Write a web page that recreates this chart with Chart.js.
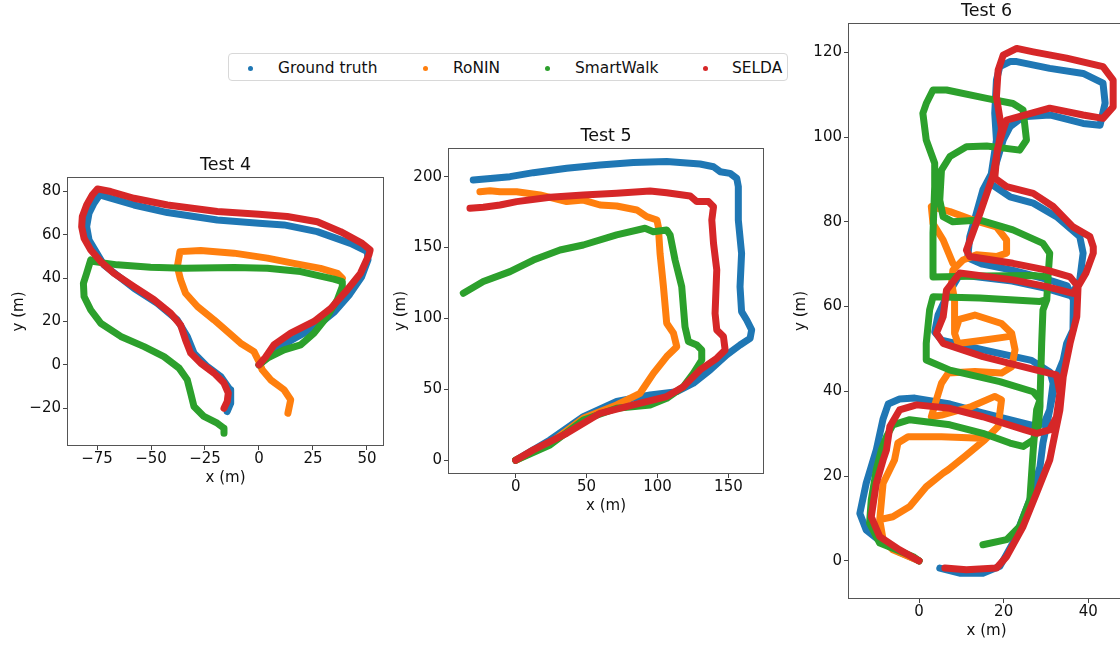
<!DOCTYPE html>
<html>
<head>
<meta charset="utf-8">
<script src="https://cdn.jsdelivr.net/npm/chart.js@4.4.1/dist/chart.umd.min.js"></script>
<style>
  html, body { margin: 0; padding: 0; background: #fff; overflow: hidden; }
  body { width: 1120px; height: 645px; position: relative; font-family: "DejaVu Sans", sans-serif; }
  canvas { position: absolute; }
  #legend { position: absolute; left: 228px; top: 53px; width: 560px; height: 28px;
            border: 1px solid #d8d8d8; border-radius: 4px; box-sizing: border-box; }
  .item { position: absolute; top: 0; height: 28px; line-height: 28px; font-size: 15.4px; color: #111; white-space: nowrap; }
  .dot { position: absolute; top: 11.5px; width: 5px; height: 5px; border-radius: 50%; }
</style>
</head>
<body>
<div id="legend"></div>
<canvas id="test4" width="389" height="350" style="left:10px;top:137px"></canvas>
<canvas id="test5" width="387" height="407" style="left:392px;top:108px"></canvas>
<canvas id="test6" width="348" height="657" style="left:792px;top:-17px"></canvas>
<script>
// series names and colours
var methods = ["Ground truth", "RoNIN", "SmartWalk", "SELDA"];
var colors = ["#1f77b4", "#ff7f0e", "#2ca02c", "#d62728"];

// tick labels
var xTicks4 = [-75, -50, -25, 0, 25, 50];
var yTicks4 = [-20, 0, 20, 40, 60, 80];
var xTicks5 = [0, 50, 100, 150];
var yTicks5 = [0, 50, 100, 150, 200];
var xTicks6 = [0, 20, 40];
var yTicks6 = [0, 20, 40, 60, 80, 100, 120];

// Test 4 trajectories [x, y] in metres
var gt4 = [[0,0],[5,4.5],[10,8.5],[17,12.5],[27,18],[35,24.5],[42,32.5],[47.5,40.5],[50.5,48.5],[50.2,52.2],[42.4,56],[27,61.4],[11.6,64.5],[0,65.3],[-19.3,66.8],[-42.4,70.2],[-57.9,73.7],[-68.7,76.8],[-73.8,78.3],[-76.4,74.5],[-78.7,69.9],[-79.8,63.7],[-78.7,57.6],[-71.8,46],[-57.9,35.3],[-47.1,28.4],[-37.8,20.7],[-33.2,13.1],[-30.1,5.4],[-23.9,-0.8],[-17.7,-5.4],[-13.4,-11.5],[-13.1,-17.7],[-14.7,-21.5]];
var ronin4 = [[13.4,-22.3],[14.7,-16.1],[11.6,-11.5],[5.4,-6.9],[1.5,-2.3],[0,1.5],[-2.3,6.1],[-8.5,10],[-14.7,15.4],[-20.8,20.7],[-28.5,26.9],[-34,33],[-36.3,39.2],[-37.8,45.3],[-36.6,52.2],[-27,52.7],[-11.6,51.5],[3.9,49.2],[16.2,46.8],[28.5,44.5],[36.3,42.2],[38.6,39.9]];
var smart4 = [[0,0],[3.9,3.1],[11.6,6.9],[19.3,9.2],[25.5,14.6],[31.6,22.3],[36.3,30],[38.6,36.1],[38.6,38.4],[34.7,39.5],[19.3,43],[3.9,44.5],[-11.6,44.9],[-34.7,44.5],[-50.2,45],[-65.6,46.1],[-76.4,47.6],[-77.9,48.4],[-79.8,42.2],[-81.3,37.6],[-81,31.5],[-77.9,25.3],[-73.3,19.2],[-64,13.1],[-53.2,8.4],[-44,3.8],[-37,-1.5],[-33.2,-6.9],[-31.6,-13.1],[-30.1,-19.2],[-25.5,-23.8],[-19.3,-26.9],[-16.2,-29.2],[-16.2,-31.5]];
var selda4 = [[0,0],[3,3.5],[6.9,9.2],[14.7,14.6],[25.5,20],[33.2,26],[40.9,34.6],[47,42.2],[50.9,50.7],[51.5,53],[47.8,56],[37.8,61.4],[27,66],[13.1,68.4],[0,69.4],[-19.3,70.7],[-42.4,73.7],[-57.9,76.8],[-68.7,79.9],[-74.8,81.1],[-77.2,78.3],[-79.8,73.7],[-81.8,68.4],[-82.1,63.7],[-81,58.4],[-77.9,53],[-73.3,47.6],[-67.1,42.2],[-57.9,36.1],[-48.6,30],[-40.9,23.8],[-36.3,18.4],[-34,11.5],[-31.6,5.4],[-27,0.8],[-20.8,-3.8],[-16.2,-8.4],[-14.2,-13],[-14.7,-16.9],[-16.2,-20]];

// Test 5
var gt5 = [[0,0],[24.2,14.3],[47.7,30.8],[71.2,41.4],[94.8,46.1],[113.6,48.4],[125.3,54.3],[137.1,63.7],[148.8,74.3],[158.2,81.3],[165.3,86],[166.4,91.9],[162.9,98.9],[159.3,104.8],[158.2,122.4],[159.3,145.9],[157,169.4],[157,192.9],[155.9,198.8],[151.2,202.3],[144.2,203.5],[139.5,207],[130,208.9],[106.5,210.6],[83,209.9],[59.5,208.2],[36,205.9],[12.5,202.8],[-4,200],[-15.8,198.8],[-29.9,197.6]];
var ronin5 = [[0,0],[24.2,12],[47.7,29.6],[71.2,39],[87.7,47.2],[97.1,61.3],[106.5,73.1],[113.6,80.1],[111.3,89.5],[106.5,96.6],[104.2,122.4],[101.8,145.9],[100.6,164.7],[99.6,169.4],[92.4,171.8],[85.4,176.5],[71.2,179.3],[59.5,180],[47.7,183.5],[36,182.4],[17.2,187.1],[0.7,189.4],[-11,189.4],[-18.1,190.1],[-25.2,189.4]];
var smart5 = [[0,0],[24.2,10.8],[47.7,28.4],[71.2,36.7],[94.8,39],[106.5,43.7],[118.3,51.9],[125.3,61.3],[131.2,70.7],[131.2,77.8],[127.7,81.3],[121.8,83.7],[119.4,94.2],[117.1,122.4],[112.4,141.2],[108.9,158.9],[106.5,162.4],[97.1,161.2],[91.2,163.6],[71.2,158.9],[47.7,151.8],[31.3,148.3],[12.5,141.2],[-4,133],[-22.8,126],[-36.9,117.7]];
var selda5 = [[0,0],[12.5,7.3],[36,19],[59.5,33.1],[83,39],[106.5,44.9],[118.3,51.9],[130,63.7],[141.8,71.9],[147.7,77.8],[146.5,87.2],[141.8,91.9],[140.6,103.6],[141.8,134.2],[139.5,153],[138.3,169.4],[139.5,178.8],[136,182.4],[127.7,182.4],[123,186.4],[106.5,188.7],[94.8,189.9],[71.2,188.3],[47.7,187.1],[24.2,185.4],[0.7,182.4],[-11,180],[-22.8,178.4],[-32.2,177.7]];

// Test 6 (null = break in the trace)
var gt6 = [[0,0],[-4.5,2],[-9,4.5],[-12.5,7.3],[-14,11.2],[-12.5,18.3],[-10.1,26.2],[-8.5,33.5],[-7.3,37],[-4.6,38.2],[-1,38.4],[7.3,37],[14.8,35],[26.6,32],[29.5,32.3],[30.9,35.6],[31.7,41.9],[31,44.5],[26.6,47.3],[15,49.8],[5.3,52.1],[3.7,54],[4.5,58],[6.5,62.3],[9.6,67.5],[22,66],[30,64.3],[36,62.5],[38,66.3],[38.8,72.6],[38,76.5],[32.5,81.2],[27,84.4],[21.5,85.9],[16.7,89.1],[17.1,91.4],[18.3,99.3],[17.9,105.6],[18.3,113.4],[19.1,116.6],[21.5,117.8],[23.1,117.8],[30.9,116.2],[38.8,115],[43.5,112.7],[44,108],[42.8,102.8],[38.8,103.2],[30.9,105.2],[24.6,104.8],[21.5,102.4],[19.9,99.3],[18,93],[15.1,87.5],[12,76.5],[11.5,71.5],[15,70],[22,68.6],[30,66.5],[35,64.9],[36.5,61.6],[36.4,54.5],[34.9,51.3],[34.1,47.4],[32.5,43.5],[30.9,35.6],[29.3,27.8],[28.6,22.2],[26.2,14.4],[22.2,4.2],[19.1,-1.3],[15.1,-2.9],[9.6,-2.9],[4.9,-1.7]];
var ronin6 = [[14.8,28.9],[5.3,29.3],[-2.6,29.3],[-5,27.8],[-5.8,23.8],[-8.5,18.3],[-9.3,9.7],[-8.5,5],[-6.2,2.6],[-1.4,0.6],[0,0],null,
  [-9,9.8],[-6.2,10.4],[-2.2,12.8],[1.7,17.5],[5.7,20.7],[6.9,21.5],[10.8,24.6],[15.5,28.5],[18.7,31.7],[19.5,38],[17.9,38.8],[12.4,36.4],[5.3,34.4],[2.9,34],[4.1,38],[5.3,41.9],[6.9,44.3],[13.2,44.7],[19.5,44.3],[21.9,45.8],[22.7,49.8],[21.9,53.7],[19.5,56],[13.2,58],[9.5,57],[8.4,53.7],[9.2,51.3],[15.5,52.1],[21.1,52.9],null,
  [8.4,53.7],[8.4,61.6],[7.7,65.5],[8,68.6],[10.4,71],[13.6,72.2],[18.3,71.8],[20.7,72.6],[20.7,75.7],[18.3,78.8],[12.8,80.4],[7.3,82.4],[2.9,83.6],[3.3,79.6],[5.7,75.7],[8,70.2]];
var smart6 = [[0,0],[-1.4,1],[-5.3,2.6],[-9.3,4.2],[-11.7,8.9],[-11.3,14.4],[-10.1,21.5],[-8.9,26.2],[-7.7,29.3],[-6.2,32.1],[-2.2,33.3],[7.3,32.1],[15.1,30.1],[21.5,27.8],[24.6,27],[27,28.5],[28.2,31.7],[28.6,36.4],[28.6,38],[27,39.9],[19.1,42.3],[7.3,45],[1.7,47.4],[1.7,51.3],[2.5,59.2],[3.3,62.3],[14.4,62],[28.6,61.2],[30.2,61.6],[30.5,67],[27,67.3],[15,67.2],[3.3,67],[3.3,77.3],[3.7,88.3],[3.7,93.8],[1.7,99.3],[0.9,105.6],[1.7,107.9],[3.3,111.1],[6.5,111.1],[16,109.1],[22.2,107.9],[24.6,106.4],[25.4,99.3],[23.8,96.9],[16,97.9],[11.2,97.7],[7.3,95.4],[5.3,92.2],[4.9,85.1],[5.7,81.2],[8,80],[14.4,80.4],[22.2,78.1],[29.3,74.9],[30.9,72.6],[30.5,67],[30.2,61.6],[29.3,59.2],[29,51.3],[28.6,38],[27.8,35.6],[27,26.2],[26.2,14.4],[23.8,8.1],[20.7,5],[15.1,3.8]];
var selda6 = [[0,0],[-4.6,2.6],[-9.3,5.7],[-11.3,10.4],[-10.1,18.3],[-8.5,23.8],[-7.7,26.2],[-6.9,31.7],[-4.6,35.6],[-0.6,36.8],[7.3,36],[15.1,34],[25,30.9],[27.8,30.1],[30.9,30.9],[32.5,34],[33.3,39.6],[32.5,43.9],[27.8,45],[15.1,48.2],[5.7,51.3],[4.1,53.7],[5.7,57.6],[6.5,63.9],[9.6,67.9],[22.2,66.3],[30.2,64.7],[36.4,63.1],[37.6,64.7],[39.5,68],[41.2,72.6],[41.2,74.1],[40.4,76.5],[36.4,78.8],[31.7,83.6],[27,86.7],[20.7,88.3],[17.9,90.3],[18.5,97],[19.9,101.7],[20.7,104],[30.9,106.8],[38.8,105.2],[43.5,104.4],[45.9,107.1],[45.9,113.4],[43.5,116.6],[34.9,118.6],[27,120.1],[23.1,120.9],[19.9,119.3],[18.7,115.8],[18.3,109.5],[19.5,102],[17.5,91],[14.4,82],[11.2,73.3],[12,71.8],[22.2,70.2],[30.2,68.6],[35.7,67],[37.6,64.7],[37.3,57.6],[35.7,51.3],[34.1,43.5],[33.3,35.6],[31.7,27.8],[30.9,23.8],[27.8,16],[24.6,8.1],[20.7,1],[18.3,-1.7],[11.2,-2.1],[6.1,-1.7]];

Chart.defaults.font.family = "DejaVu Sans";
Chart.defaults.color = "#111";

function toPoints(list) {
    var out = [];
    for (var i = 0; i < list.length; i++) {
        if (list[i]) out.push({x: list[i][0], y: list[i][1]});
        else out.push({x: list[i - 1][0], y: null});
    }
    return out;
}

function fmt(v) {
    return String(v).replace("-", "\u2212");
}

// frame round the plot area, like matplotlib spines
var framePlugin = {
    id: "frame",
    afterDatasetsDraw: function (chart) {
        var a = chart.chartArea, ctx = chart.ctx;
        ctx.save();
        ctx.strokeStyle = "#555";
        ctx.lineWidth = 1;
        ctx.strokeRect(a.left + 0.5, a.top + 0.5, a.right - a.left - 1, a.bottom - a.top - 1);
        ctx.restore();
    }
};

function drawTest(id, title, series, xr, yr, xTicks, yTicks, yAxisW) {
    var datasets = series.map(function (s, i) {
        return {
            label: methods[i],
            data: toPoints(s),
            showLine: true,
            spanGaps: false,
            borderColor: colors[i],
            backgroundColor: colors[i],
            borderWidth: 7,
            borderCapStyle: "round",
            borderJoinStyle: "round",
            pointRadius: 0,
            clip: 0,
            order: 3 - i
        };
    });
    var axisCommon = {
        type: "linear",
        grid: {drawOnChartArea: false, drawTicks: true, tickLength: 4, color: "#444"},
        border: {display: false}
    };
    new Chart(document.getElementById(id), {
        type: "scatter",
        data: {datasets: datasets},
        options: {
            responsive: false,
            animation: false,
            events: [],
            layout: {padding: {left: 0, top: 0, right: 15, bottom: 0}},
            plugins: {
                legend: {display: false},
                tooltip: {enabled: false},
                title: {display: true, text: title, fullSize: false, font: {size: 17.5, weight: "normal"}, color: "#111",
                        padding: {top: 17.5, bottom: 1.5}}
            },
            scales: {
                x: Object.assign({}, axisCommon, {
                    min: xr[0], max: xr[1],
                    afterBuildTicks: function (s) { s.ticks = xTicks.map(function (v) { return {value: v}; }); },
                    afterFit: function (s) { s.height = 41; },
                    ticks: {font: {size: 15}, padding: 0, maxRotation: 0, callback: fmt},
                    title: {display: true, text: "x (m)", font: {size: 15}, padding: 0}
                }),
                y: Object.assign({}, axisCommon, {
                    min: yr[0], max: yr[1],
                    afterBuildTicks: function (s) { s.ticks = yTicks.map(function (v) { return {value: v}; }); },
                    afterFit: function (s) { s.width = yAxisW; },
                    ticks: {font: {size: 15}, padding: 2, callback: fmt},
                    title: {display: true, text: "y (m)", font: {size: 15}, padding: 0}
                })
            }
        },
        plugins: [framePlugin]
    });
}

drawTest("test4", "Test 4", [gt4, ronin4, smart4, selda4], [-88.9, 57.9], [-37.4, 86.6], xTicks4, yTicks4, 57);
drawTest("test5", "Test 5", [gt5, ronin5, smart5, selda5], [-47.7, 175.1], [-9.7, 220.2], xTicks5, yTicks5, 56);
drawTest("test6", "Test 6", [gt6, ronin6, smart6, selda6], [-16.8, 48.7], [-9.0, 126.9], xTicks6, yTicks6, 56);

// shared legend
var legend = document.getElementById("legend");
var dotX = [21, 196, 318, 476];
var textX = [49, 224, 346, 503];
methods.forEach(function (m, i) {
    var d = document.createElement("span");
    d.className = "dot";
    d.style.left = (dotX[i] - 2.5) + "px";
    d.style.background = colors[i];
    legend.appendChild(d);
    var t = document.createElement("span");
    t.className = "item";
    t.style.left = textX[i] + "px";
    t.textContent = m;
    legend.appendChild(t);
});
</script>
</body>
</html>
